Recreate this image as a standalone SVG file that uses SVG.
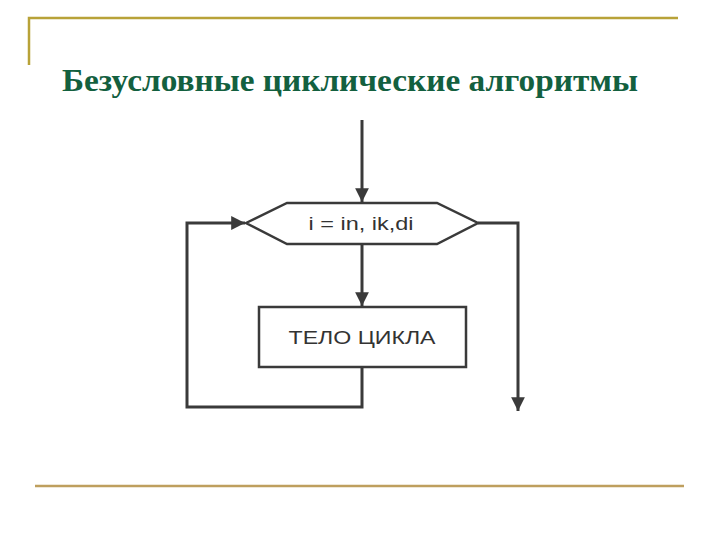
<svg xmlns="http://www.w3.org/2000/svg" width="720" height="540" viewBox="0 0 720 540">
<defs>
<style>
.frame{stroke:#B8A238;stroke-width:2.5;fill:none}
.ln{stroke:#3a3a3a;stroke-width:3;fill:none}
.shape{stroke:#3a3a3a;stroke-width:2.5;fill:#fff}
.lbl{font-family:"Liberation Sans",Arial,sans-serif;font-size:18px;fill:#333;text-anchor:middle}
.title{font-family:"Liberation Serif","Times New Roman",serif;font-size:32px;font-weight:bold;fill:#13603F}
</style>
<marker id="ah" viewBox="0 0 10 10" refX="10" refY="5" markerWidth="5" markerHeight="4.6" markerUnits="strokeWidth" orient="auto">
<path d="M0,0 L10,5 L0,10 Z" fill="#3a3a3a"/>
</marker>
</defs>
<rect width="720" height="540" fill="#fff"/>
<path class="frame" d="M29,65 V18 H678"/>
<line x1="35" y1="486" x2="684" y2="486" stroke="#BE9F5E" stroke-width="2.5"/>
<text class="title" x="62" y="91" textLength="576" lengthAdjust="spacingAndGlyphs">Безусловные циклические алгоритмы</text>
<g id="connectors">
<line class="ln" x1="362" y1="120" x2="362" y2="202" marker-end="url(#ah)"/>
<line class="ln" x1="362" y1="244" x2="362" y2="306" marker-end="url(#ah)"/>
<polyline class="ln" points="362,367 362,407 187,407 187,223 245,223" marker-end="url(#ah)"/>
<polyline class="ln" points="478,223 518,223 518,411" marker-end="url(#ah)"/>
</g>
<g id="loop">
<polygon class="shape" points="246,223 287,203 437,203 478,223 437,244 287,244"/>
<text class="lbl" x="361" y="230" textLength="105" lengthAdjust="spacingAndGlyphs">i = in, ik,di</text>
</g>
<g id="body">
<rect class="shape" x="259" y="307" width="207" height="60"/>
<text class="lbl" x="362" y="344" textLength="147" lengthAdjust="spacingAndGlyphs">ТЕЛО ЦИКЛА</text>
</g>
</svg>
